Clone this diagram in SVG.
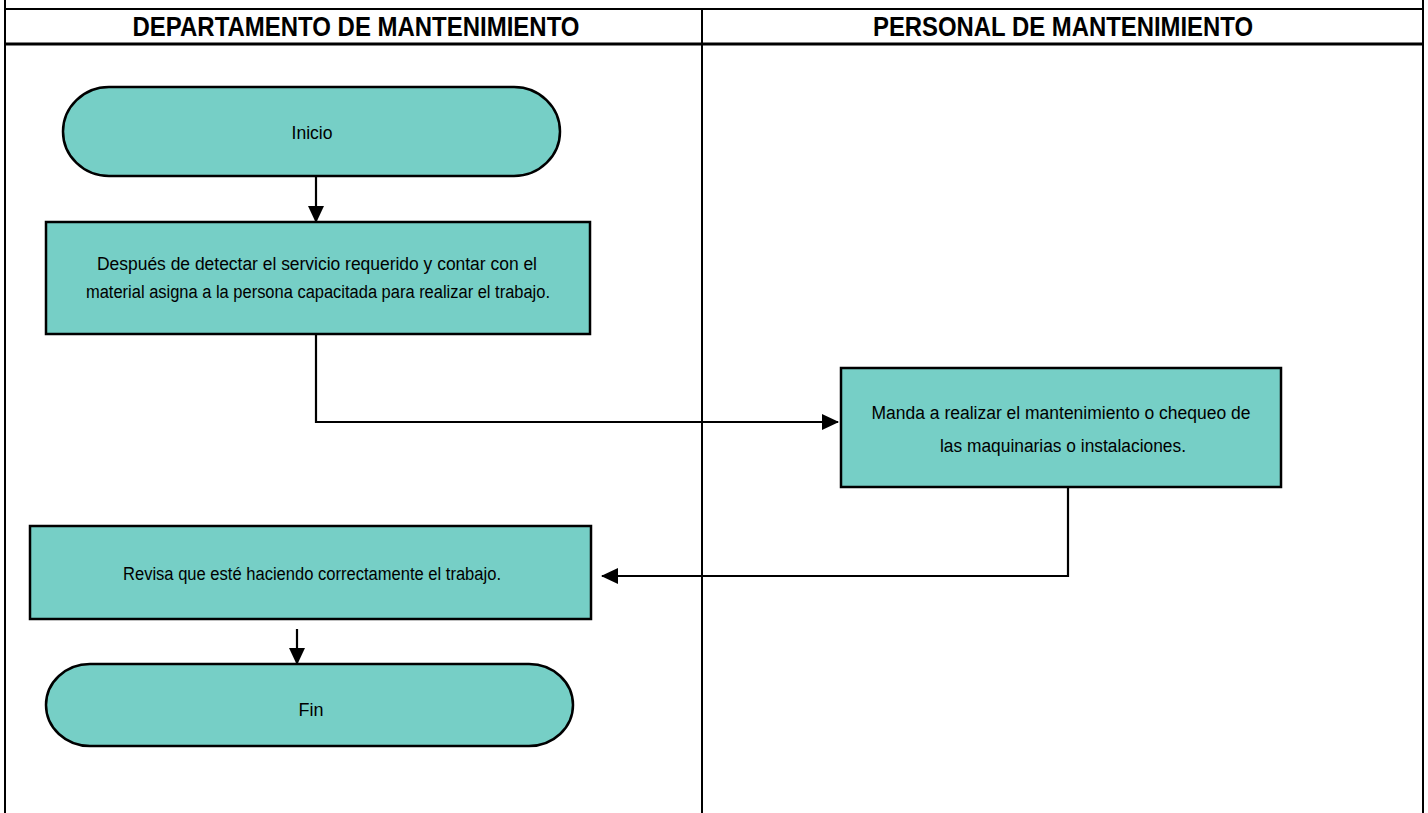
<svg xmlns="http://www.w3.org/2000/svg" width="1428" height="813" viewBox="0 0 1428 813">
<defs>
<marker id="ah" markerWidth="17" markerHeight="16" refX="16" refY="8" orient="auto" markerUnits="userSpaceOnUse">
<path d="M0,0 L17,8 L0,16 Z" fill="#000"/>
</marker>
<style>
.frame{stroke:#000;fill:none}
.hdr{font-family:"Liberation Sans Narrow","Liberation Sans",Arial,sans-serif;font-weight:bold;font-size:27px;fill:#000;text-anchor:middle}
.node{fill:#76cfc6;stroke:#000;stroke-width:2.5}
.lbl{font-family:"Liberation Sans Narrow","Liberation Sans",Arial,sans-serif;font-size:18px;fill:#000;text-anchor:middle}
.conn{stroke:#000;stroke-width:2.2;fill:none}
</style>
</defs>
<rect width="1428" height="813" fill="#fff"/>
<g id="frame">
<line class="frame" x1="5" y1="0" x2="5" y2="813" stroke-width="2"/>
<line class="frame" x1="1423" y1="0" x2="1423" y2="813" stroke-width="2"/>
<line class="frame" x1="5" y1="9" x2="1423" y2="9" stroke-width="2"/>
<line class="frame" x1="5" y1="44" x2="1423" y2="44" stroke-width="3"/>
<line class="frame" x1="702" y1="9" x2="702" y2="813" stroke-width="2"/>
<text class="hdr" x="356" y="36" textLength="447" lengthAdjust="spacingAndGlyphs">DEPARTAMENTO DE MANTENIMIENTO</text>
<text class="hdr" x="1063" y="36" textLength="380" lengthAdjust="spacingAndGlyphs">PERSONAL DE MANTENIMIENTO</text>
</g>
<g id="connectors">
<line class="conn" x1="316" y1="176" x2="316" y2="222" marker-end="url(#ah)"/>
<polyline class="conn" points="316,334 316,422 838,422" marker-end="url(#ah)"/>
<polyline class="conn" points="1068,487 1068,576 602,576" marker-end="url(#ah)"/>
<line class="conn" x1="297" y1="629" x2="297" y2="664" marker-end="url(#ah)"/>
</g>
<g id="inicio">
<rect class="node" x="63" y="87" width="497" height="89" rx="46" ry="44.5"/>
<text class="lbl" x="312" y="139" textLength="41" lengthAdjust="spacingAndGlyphs">Inicio</text>
</g>
<g id="asigna">
<rect class="node" x="46" y="222" width="544" height="112"/>
<text class="lbl" x="317" y="270" textLength="440" lengthAdjust="spacingAndGlyphs">Después de detectar el servicio requerido y contar con el</text>
<text class="lbl" x="318" y="298" textLength="464" lengthAdjust="spacingAndGlyphs">material asigna a la persona capacitada para realizar el trabajo.</text>
</g>
<g id="manda">
<rect class="node" x="841" y="368" width="440" height="119"/>
<text class="lbl" x="1061" y="419" textLength="379" lengthAdjust="spacingAndGlyphs">Manda a realizar el mantenimiento o chequeo de</text>
<text class="lbl" x="1063" y="452" textLength="246" lengthAdjust="spacingAndGlyphs">las maquinarias o instalaciones.</text>
</g>
<g id="revisa">
<rect class="node" x="30" y="526" width="561" height="93"/>
<text class="lbl" x="312" y="580" textLength="378" lengthAdjust="spacingAndGlyphs">Revisa que esté haciendo correctamente el trabajo.</text>
</g>
<g id="fin">
<rect class="node" x="46" y="664" width="527" height="82" rx="44" ry="41"/>
<text class="lbl" x="311" y="716" textLength="25" lengthAdjust="spacingAndGlyphs">Fin</text>
</g>
</svg>
